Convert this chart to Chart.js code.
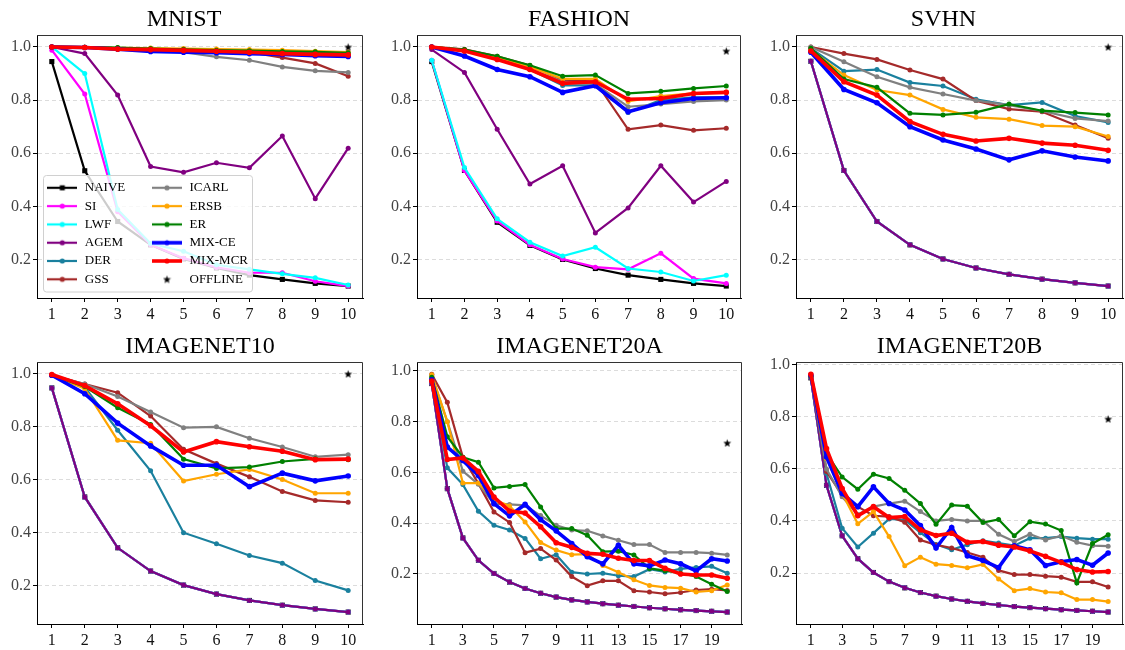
<!DOCTYPE html>
<html><head><meta charset="utf-8">
<script src="https://cdn.jsdelivr.net/npm/chart.js@4.4.1/dist/chart.umd.min.js"></script>
<style>
html,body{margin:0;padding:0;background:#fff;width:1125px;height:650px;overflow:hidden;position:relative;}
canvas{position:absolute;}
</style></head><body>
<canvas id="c0" width="368" height="325" style="left:0px;top:0px"></canvas>
<canvas id="c1" width="366" height="325" style="left:380px;top:0px"></canvas>
<canvas id="c2" width="369" height="325" style="left:759px;top:0px"></canvas>
<canvas id="c3" width="368" height="323" style="left:0px;top:327px"></canvas>
<canvas id="c4" width="367" height="323" style="left:380px;top:327px"></canvas>
<canvas id="c5" width="369" height="323" style="left:759px;top:327px"></canvas>
<canvas id="lg" width="440" height="119" style="left:41px;top:175px"></canvas>
<script>
// ---------------- data ----------------
const seriesNames = ['NAIVE','SI','LWF','AGEM','DER','GSS','ICARL','ERSB','ER','MIX-CE','MIX-MCR'];
const offlineName = 'OFFLINE';
const titles = ['MNIST','FASHION','SVHN','IMAGENET10','IMAGENET20A','IMAGENET20B'];
const tasks10 = [1,2,3,4,5,6,7,8,9,10];
const tasks20 = [1,2,3,4,5,6,7,8,9,10,11,12,13,14,15,16,17,18,19,20];
const xTicks10 = [1,2,3,4,5,6,7,8,9,10];
const xTickLabels10 = ['1','2','3','4','5','6','7','8','9','10'];
const xTicks20 = [1,3,5,7,9,11,13,15,17,19];
const xTickLabels20 = ['1','3','5','7','9','11','13','15','17','19'];
const yTicks = [0.2,0.4,0.6,0.8,1.0];
const yTickLabels = ['0.2','0.4','0.6','0.8','1.0'];
const offlineAcc = [1.0, 0.985, 1.0, 1.0, 0.716, 0.792];

// MNIST
const mnistNaive  = [0.945,0.534,0.343,0.255,0.202,0.168,0.141,0.125,0.110,0.100];
const mnistSi     = [0.988,0.823,0.380,0.255,0.205,0.170,0.150,0.150,0.118,0.100];
const mnistLwf    = [1.000,0.900,0.388,0.260,0.231,0.180,0.163,0.146,0.131,0.104];
const mnistAgem   = [1.000,0.975,0.819,0.550,0.528,0.564,0.545,0.665,0.429,0.619];
const mnistDer    = [1.000,0.999,0.996,0.993,0.990,0.987,0.984,0.981,0.978,0.975];
const mnistGss    = [1.000,0.999,0.996,0.993,0.990,0.986,0.980,0.960,0.938,0.890];
const mnistIcarl  = [1.000,0.998,0.990,0.985,0.980,0.963,0.950,0.925,0.910,0.904];
const mnistErsb   = [1.000,0.999,0.997,0.996,0.994,0.992,0.990,0.988,0.984,0.981];
const mnistEr     = [1.000,0.999,0.998,0.994,0.991,0.988,0.986,0.983,0.982,0.978];
const mnistMixCe  = [1.000,0.998,0.992,0.983,0.980,0.978,0.975,0.972,0.967,0.964];
const mnistMixMcr = [1.000,0.998,0.992,0.990,0.987,0.984,0.980,0.975,0.972,0.970];

// FASHION
const fashionNaive  = [0.945,0.535,0.340,0.253,0.200,0.166,0.141,0.125,0.110,0.100];
const fashionSi     = [0.950,0.535,0.345,0.255,0.202,0.171,0.163,0.223,0.128,0.110];
const fashionLwf    = [0.950,0.546,0.353,0.265,0.213,0.246,0.166,0.153,0.119,0.141];
const fashionAgem   = [0.990,0.904,0.690,0.484,0.553,0.300,0.394,0.553,0.416,0.494];
const fashionDer    = [1.000,0.985,0.955,0.915,0.855,0.855,0.753,0.800,0.810,0.810];
const fashionGss    = [1.000,0.991,0.965,0.930,0.875,0.870,0.690,0.706,0.686,0.694];
const fashionIcarl  = [1.000,0.985,0.955,0.915,0.870,0.860,0.775,0.785,0.795,0.800];
const fashionErsb   = [1.000,0.987,0.960,0.925,0.880,0.880,0.795,0.815,0.825,0.830];
const fashionEr     = [1.000,0.990,0.965,0.931,0.890,0.894,0.825,0.833,0.844,0.853];
const fashionMixCe  = [1.000,0.966,0.915,0.888,0.829,0.854,0.756,0.790,0.806,0.809];
const fashionMixMcr = [1.000,0.985,0.953,0.915,0.863,0.869,0.803,0.806,0.825,0.829];

// SVHN
const svhnNaive  = [0.946,0.535,0.343,0.255,0.202,0.168,0.144,0.126,0.112,0.100];
const svhnSi     = [0.946,0.535,0.343,0.255,0.202,0.168,0.144,0.126,0.112,0.100];
const svhnLwf    = [0.946,0.535,0.343,0.255,0.202,0.168,0.144,0.126,0.112,0.100];
const svhnAgem   = [0.946,0.535,0.343,0.255,0.202,0.168,0.144,0.126,0.112,0.100];
const svhnDer    = [0.995,0.909,0.915,0.866,0.853,0.803,0.781,0.791,0.740,0.716];
const svhnGss    = [1.000,0.975,0.953,0.913,0.879,0.798,0.766,0.756,0.706,0.656];
const svhnIcarl  = [1.000,0.944,0.888,0.848,0.823,0.798,0.781,0.759,0.731,0.721];
const svhnErsb   = [0.990,0.894,0.838,0.819,0.765,0.735,0.728,0.704,0.700,0.663];
const svhnEr     = [0.995,0.879,0.848,0.750,0.744,0.754,0.785,0.760,0.753,0.744];
const svhnMixCe  = [0.980,0.840,0.790,0.700,0.650,0.616,0.575,0.609,0.586,0.571];
const svhnMixMcr = [0.985,0.869,0.819,0.719,0.671,0.646,0.656,0.638,0.630,0.611];

// IMAGENET10
const in10Naive  = [0.947,0.535,0.343,0.255,0.202,0.168,0.144,0.126,0.112,0.100];
const in10Si     = [0.947,0.535,0.343,0.255,0.202,0.168,0.144,0.126,0.112,0.100];
const in10Lwf    = [0.947,0.535,0.343,0.255,0.202,0.168,0.144,0.126,0.112,0.100];
const in10Agem   = [0.947,0.535,0.343,0.255,0.202,0.168,0.144,0.126,0.112,0.100];
const in10Der    = [0.995,0.950,0.787,0.634,0.400,0.358,0.314,0.285,0.219,0.182];
const in10Gss    = [0.995,0.962,0.929,0.841,0.715,0.661,0.611,0.556,0.522,0.515];
const in10Icarl  = [0.995,0.962,0.915,0.856,0.797,0.800,0.757,0.724,0.687,0.695];
const in10Ersb   = [0.995,0.944,0.749,0.738,0.595,0.621,0.639,0.601,0.549,0.549];
const in10Er     = [0.995,0.952,0.872,0.809,0.678,0.643,0.648,0.669,0.679,0.676];
const in10MixCe  = [0.995,0.925,0.814,0.728,0.655,0.655,0.574,0.625,0.596,0.614];
const in10MixMcr = [0.998,0.956,0.887,0.804,0.705,0.744,0.725,0.708,0.676,0.678];

// IMAGENET20A
const in20aNaive  = [0.950,0.536,0.342,0.254,0.202,0.168,0.143,0.124,0.109,0.098,0.090,0.083,0.077,0.072,0.067,0.063,0.059,0.056,0.053,0.050];
const in20aSi     = [0.950,0.536,0.342,0.254,0.202,0.168,0.143,0.124,0.109,0.098,0.090,0.083,0.077,0.072,0.067,0.063,0.059,0.056,0.053,0.050];
const in20aLwf    = [0.950,0.536,0.342,0.254,0.202,0.168,0.143,0.124,0.109,0.098,0.090,0.083,0.077,0.072,0.067,0.063,0.059,0.056,0.053,0.050];
const in20aAgem   = [0.950,0.536,0.342,0.254,0.202,0.168,0.143,0.124,0.109,0.098,0.090,0.083,0.077,0.072,0.067,0.063,0.059,0.056,0.053,0.050];
const in20aDer    = [0.960,0.618,0.552,0.447,0.392,0.373,0.340,0.260,0.276,0.207,0.200,0.203,0.193,0.190,0.219,0.208,0.220,0.226,0.230,0.203];
const in20aGss    = [0.987,0.876,0.660,0.556,0.444,0.403,0.284,0.300,0.255,0.190,0.154,0.173,0.173,0.134,0.129,0.122,0.127,0.137,0.140,0.135];
const in20aIcarl  = [0.980,0.800,0.605,0.553,0.477,0.474,0.470,0.430,0.392,0.373,0.370,0.350,0.333,0.316,0.316,0.285,0.285,0.285,0.282,0.275];
const in20aErsb   = [0.985,0.800,0.558,0.558,0.493,0.468,0.405,0.324,0.294,0.276,0.278,0.233,0.207,0.177,0.155,0.147,0.144,0.129,0.134,0.157];
const in20aEr     = [0.975,0.741,0.660,0.640,0.539,0.545,0.552,0.464,0.379,0.379,0.353,0.288,0.290,0.275,0.222,0.213,0.203,0.190,0.160,0.131];
const in20aMixCe  = [0.965,0.700,0.647,0.588,0.477,0.429,0.474,0.414,0.370,0.320,0.268,0.240,0.313,0.240,0.232,0.255,0.240,0.212,0.260,0.251];
const in20aMixMcr = [0.960,0.651,0.657,0.604,0.503,0.448,0.440,0.386,0.323,0.305,0.281,0.278,0.262,0.253,0.253,0.222,0.200,0.196,0.196,0.183];

// IMAGENET20B
const in20bNaive  = [0.950,0.537,0.343,0.255,0.202,0.167,0.143,0.125,0.111,0.100,0.091,0.083,0.077,0.071,0.067,0.063,0.059,0.056,0.053,0.050];
const in20bSi     = [0.950,0.537,0.343,0.255,0.202,0.167,0.143,0.125,0.111,0.100,0.091,0.083,0.077,0.071,0.067,0.063,0.059,0.056,0.053,0.050];
const in20bLwf    = [0.950,0.537,0.343,0.255,0.202,0.167,0.143,0.125,0.111,0.100,0.091,0.083,0.077,0.071,0.067,0.063,0.059,0.056,0.053,0.050];
const in20bAgem   = [0.950,0.537,0.343,0.255,0.202,0.167,0.143,0.125,0.111,0.100,0.091,0.083,0.077,0.071,0.067,0.063,0.059,0.056,0.053,0.050];
const in20bDer    = [0.955,0.582,0.372,0.300,0.353,0.408,0.404,0.355,0.310,0.289,0.309,0.324,0.315,0.305,0.334,0.334,0.340,0.334,0.330,0.330];
const in20bGss    = [0.955,0.590,0.500,0.455,0.420,0.417,0.395,0.327,0.308,0.296,0.279,0.261,0.210,0.194,0.194,0.188,0.184,0.166,0.166,0.146];
const in20bIcarl  = [0.955,0.600,0.493,0.425,0.455,0.467,0.476,0.436,0.400,0.406,0.400,0.400,0.349,0.321,0.349,0.327,0.343,0.318,0.305,0.303];
const in20bErsb   = [0.955,0.640,0.506,0.389,0.436,0.340,0.228,0.261,0.234,0.229,0.220,0.233,0.177,0.132,0.140,0.127,0.124,0.098,0.098,0.090];
const in20bEr     = [0.955,0.660,0.569,0.522,0.580,0.563,0.518,0.467,0.387,0.461,0.457,0.394,0.406,0.343,0.397,0.388,0.363,0.162,0.313,0.347];
const in20bMixCe  = [0.960,0.646,0.506,0.455,0.531,0.467,0.442,0.382,0.296,0.375,0.266,0.248,0.221,0.305,0.289,0.229,0.243,0.252,0.230,0.277];
const in20bMixMcr = [0.964,0.678,0.525,0.420,0.455,0.413,0.417,0.366,0.344,0.353,0.318,0.321,0.307,0.300,0.285,0.264,0.241,0.213,0.204,0.206];

// ---------------- styles ----------------
const colors = ['#000000','#ff00ff','#00ffff','#800080','#1a809e','#a52a2a','#808080','#ffa500','#008000','#0000ff','#ff0000'];
const lineWidths = [2.2,2.2,2.2,2.2,2.2,2.2,2.2,2.2,2.2,3.6,3.6];
const FONT = "'Liberation Serif', 'Times New Roman', serif";
Chart.defaults.font.family = FONT;

function makeStar(size){
  const c = document.createElement('canvas'); c.width = size; c.height = size;
  const g = c.getContext('2d'); g.fillStyle = '#000'; g.beginPath();
  const R = size/2 - 0.3, r = R*0.42, cx = size/2, cy = size/2 + 0.4;
  for (let k = 0; k < 10; k++) {
    const a = -Math.PI/2 + k*Math.PI/5, rr = (k % 2) ? r : R;
    g.lineTo(cx + rr*Math.cos(a), cy + rr*Math.sin(a));
  }
  g.closePath(); g.fill(); return c;
}
const starImg = makeStar(9);

function makeHandle(color, lw, marker){
  const c = document.createElement('canvas'); c.width = 30; c.height = 10;
  const g = c.getContext('2d');
  if (marker === 'star') { g.drawImage(makeStar(9), 10.5, 0.5); return c; }
  g.strokeStyle = color; g.lineWidth = lw; g.beginPath(); g.moveTo(0,5); g.lineTo(30,5); g.stroke();
  g.fillStyle = color;
  if (marker === 'rect') { g.fillRect(12.5, 2.5, 5, 5); }
  else { g.beginPath(); g.arc(15, 5, 2.6, 0, Math.PI*2); g.fill(); }
  return c;
}

const panels = [
  {id:'c0', title:titles[0], fullTitle:true, xs:tasks10, xt:xTicks10, xl:xTickLabels10, xmin:0.55, xmax:10.45, ymin:0.055, ymax:1.045, xh:27,
   series:[mnistNaive,mnistSi,mnistLwf,mnistAgem,mnistDer,mnistGss,mnistIcarl,mnistErsb,mnistEr,mnistMixCe,mnistMixMcr], off:offlineAcc[0]},
  {id:'c1', title:titles[1], fullTitle:false, xs:tasks10, xt:xTicks10, xl:xTickLabels10, xmin:0.55, xmax:10.45, ymin:0.055, ymax:1.045, xh:27,
   series:[fashionNaive,fashionSi,fashionLwf,fashionAgem,fashionDer,fashionGss,fashionIcarl,fashionErsb,fashionEr,fashionMixCe,fashionMixMcr], off:offlineAcc[1]},
  {id:'c2', title:titles[2], fullTitle:true, xs:tasks10, xt:xTicks10, xl:xTickLabels10, xmin:0.55, xmax:10.45, ymin:0.055, ymax:1.045, xh:27,
   series:[svhnNaive,svhnSi,svhnLwf,svhnAgem,svhnDer,svhnGss,svhnIcarl,svhnErsb,svhnEr,svhnMixCe,svhnMixMcr], off:offlineAcc[2]},
  {id:'c3', title:titles[3], fullTitle:false, xs:tasks10, xt:xTicks10, xl:xTickLabels10, xmin:0.55, xmax:10.45, ymin:0.055, ymax:1.045, xh:26,
   series:[in10Naive,in10Si,in10Lwf,in10Agem,in10Der,in10Gss,in10Icarl,in10Ersb,in10Er,in10MixCe,in10MixMcr], off:offlineAcc[3]},
  {id:'c4', title:titles[4], fullTitle:false, xs:tasks20, xt:xTicks20, xl:xTickLabels20, xmin:0.05, xmax:20.95, ymin:0.003, ymax:1.035, xh:26,
   series:[in20aNaive,in20aSi,in20aLwf,in20aAgem,in20aDer,in20aGss,in20aIcarl,in20aErsb,in20aEr,in20aMixCe,in20aMixMcr], off:offlineAcc[4]},
  {id:'c5', title:titles[5], fullTitle:false, xs:tasks20, xt:xTicks20, xl:xTickLabels20, xmin:0.05, xmax:20.95, ymin:0.004, ymax:1.011, xh:26,
   series:[in20bNaive,in20bSi,in20bLwf,in20bAgem,in20bDer,in20bGss,in20bIcarl,in20bErsb,in20bEr,in20bMixCe,in20bMixMcr], off:offlineAcc[5]}
];

const boxPlugin = {
  id: 'boxFrame',
  afterDraw(chart) {
    const {ctx, chartArea: a} = chart;
    ctx.save();
    ctx.strokeStyle = '#333'; ctx.lineWidth = 1;
    const t = Math.round(a.top) + 0.5, r = Math.round(a.right) - 0.5;
    ctx.beginPath();
    ctx.moveTo(a.left, t); ctx.lineTo(r, t); ctx.lineTo(r, a.bottom);
    ctx.stroke();
    ctx.restore();
  }
};

panels.forEach(p => {
  const datasets = p.series.map((vals, i) => ({
    label: seriesNames[i],
    data: vals.map((v, j) => ({x: p.xs[j], y: v})),
    borderColor: colors[i], backgroundColor: colors[i],
    pointBackgroundColor: colors[i], pointBorderColor: colors[i], pointBorderWidth: 0,
    pointStyle: i === 0 ? 'rect' : 'circle',
    pointRadius: i === 0 ? 3.6 : (i >= 9 ? 2.8 : 2.5),
    borderWidth: lineWidths[i], tension: 0, fill: false, order: -i
  }));
  datasets.push({
    label: offlineName,
    data: [{x: p.xs[p.xs.length - 1], y: p.off}],
    showLine: false, pointStyle: starImg, pointRadius: 4,
    borderColor: '#000', backgroundColor: '#000', order: -20
  });
  new Chart(document.getElementById(p.id), {
    type: 'line',
    data: {datasets},
    options: {
      responsive: false, animation: false, events: [],
      layout: {padding: 0},
      plugins: {
        legend: {display: false}, tooltip: {enabled: false},
        title: {display: true, text: p.title, color: '#000', fullSize: p.fullTitle,
          font: {family: FONT, size: 24, weight: 'normal'}, padding: {top: 5, bottom: 1.2}}
      },
      scales: {
        x: {
          type: 'linear', min: p.xmin, max: p.xmax, bounds: 'data',
          afterBuildTicks: s => { s.ticks = p.xt.map(v => ({value: v})); },
          afterFit: s => { s.height = p.xh; },
          ticks: {callback: (v, i) => p.xl[i], color: '#111', font: {family: FONT, size: 16}, padding: 3, maxRotation: 0, autoSkip: false},
          grid: {drawOnChartArea: false, drawTicks: true, tickColor: '#000', tickLength: 4},
          border: {display: true, color: '#000', width: 1}
        },
        y: {
          type: 'linear', min: p.ymin, max: p.ymax, bounds: 'data',
          afterBuildTicks: s => { s.ticks = yTicks.map(v => ({value: v})); },
          afterFit: s => { s.width = 37; },
          ticks: {callback: (v, i) => yTickLabels[i], color: '#444', font: {family: FONT, size: 16}, padding: 2, autoSkip: false},
          grid: {color: '#dcdcdc', lineWidth: 1, drawTicks: true, tickColor: '#000', tickLength: 4},
          border: {display: true, color: '#000', width: 1, dash: [4, 3]}
        }
      }
    },
    plugins: [boxPlugin]
  });
});

// ---------------- legend (overlay on first panel) ----------------
const legendNames = seriesNames.concat([offlineName]);
const handles = seriesNames.map((n, i) => makeHandle(colors[i], lineWidths[i], i === 0 ? 'rect' : 'circle'));
handles.push(makeHandle('#000', 0, 'star'));

const legendBg = {
  id: 'legendBg',
  beforeDraw(chart) {
    const ctx = chart.ctx;
    const x = 2.5, y = 0.5, w = 209, h = 116.5, r = 3;
    ctx.save();
    ctx.beginPath();
    ctx.moveTo(x + r, y); ctx.lineTo(x + w - r, y); ctx.arcTo(x + w, y, x + w, y + r, r);
    ctx.lineTo(x + w, y + h - r); ctx.arcTo(x + w, y + h, x + w - r, y + h, r);
    ctx.lineTo(x + r, y + h); ctx.arcTo(x, y + h, x, y + h - r, r);
    ctx.lineTo(x, y + r); ctx.arcTo(x, y, x + r, y, r);
    ctx.closePath();
    ctx.fillStyle = 'rgba(255,255,255,0.8)'; ctx.fill();
    ctx.strokeStyle = '#d0d0d0'; ctx.lineWidth = 1; ctx.stroke();
    ctx.restore();
  }
};
const colGap = {
  id: 'colGap',
  afterLayout(chart) {
    const lg = chart.legend;
    if (lg && lg.columnSizes && lg.columnSizes.length > 1) {
      lg.columnSizes[0].width = 99.4;
      lg.width = 230;
      lg.right = lg.left + 230;
    }
  }
};

new Chart(document.getElementById('lg'), {
  type: 'line',
  data: {datasets: legendNames.map(n => ({label: n, data: []}))},
  options: {
    responsive: false, animation: false, events: [],
    layout: {padding: {top: 1}},
    scales: {x: {display: false}, y: {display: false}},
    plugins: {
      title: {display: false}, tooltip: {enabled: false},
      legend: {
        display: true, position: 'left', align: 'start', maxWidth: 220,
        labels: {
          usePointStyle: true, pointStyleWidth: 32, boxHeight: 13, padding: 5.3,
          color: '#000', font: {family: FONT, size: 13},
          generateLabels: () => legendNames.map((n, i) => ({
            text: n, pointStyle: handles[i], fillStyle: '#000', strokeStyle: '#000',
            lineWidth: 0, hidden: false, datasetIndex: i
          }))
        }
      }
    }
  },
  plugins: [legendBg, colGap]
});
</script>
</body></html>
